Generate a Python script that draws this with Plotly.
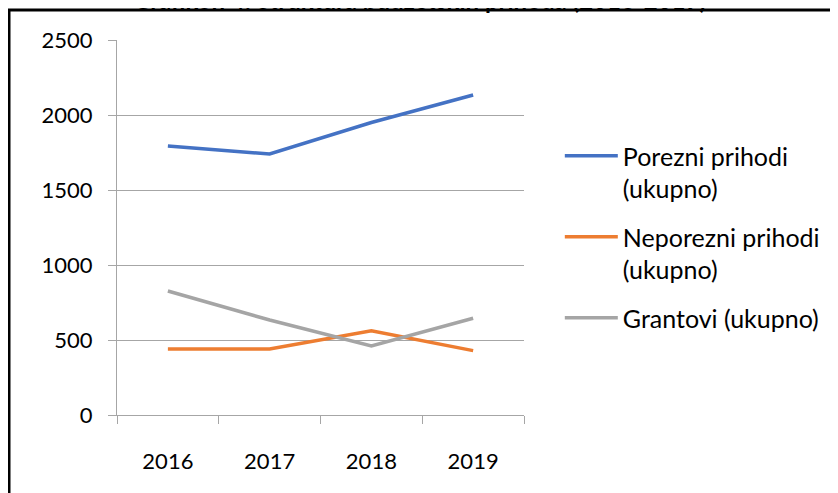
import plotly.graph_objects as go

# data
years = ["2016", "2017", "2018", "2019"]
porezni = [1793, 1740, 1950, 2133]
neporezni = [440, 440, 562, 429]
grantovi = [827, 633, 460, 645]

names = ["Porezni prihodi<br>(ukupno)", "Neporezni prihodi<br>(ukupno)", "Grantovi (ukupno)"]
colors = ["#4472C4", "#ED7D31", "#A5A5A5"]
title = "<b>Grafikon 4: Struktura budžetskih prihoda (2016-2019)</b>"

FONT = "Lato"

fig = go.Figure()
for i, (vals, name, col) in enumerate(zip([porezni, neporezni, grantovi], names, colors)):
    fig.add_trace(go.Scatter(x=years, y=vals, name=name, mode="lines", legendgroup=str(i),
                             line=dict(color=col, width=3.5)))

fig.update_layout(
    width=838, height=493,
    margin=dict(l=109, r=322, t=32, b=86),
    paper_bgcolor="white", plot_bgcolor="white",
    font=dict(family=FONT, size=22, color="black"),
    legend=dict(x=1.088, y=0.752, xanchor="left", yanchor="top",
                valign="top", itemwidth=53, tracegroupgap=13,
                font=dict(size=25, family=FONT)),
    showlegend=True,
)

# title sits mostly above the top edge of the picture, as in the reference
fig.add_annotation(text=title, xref="paper", yref="paper", x=0.744, y=1 + 40 / 375,
                   xanchor="center", yanchor="middle", showarrow=False,
                   font=dict(size=24, family=FONT))

fig.update_xaxes(type="category", showgrid=False, showline=True, linecolor="#A6A6A6",
                 linewidth=1.3, ticks="outside", tickson="boundaries", ticklen=8,
                 tickcolor="#A6A6A6", ticklabelstandoff=26, range=[-0.5, 3.5])
fig.update_yaxes(range=[0, 2500], dtick=500, showgrid=True, gridcolor="#A6A6A6",
                 gridwidth=1.3, showline=True, linecolor="#A6A6A6", linewidth=1.3,
                 ticks="outside", ticklen=8, tickcolor="#A6A6A6",
                 ticklabelstandoff=11, zeroline=False)

# outer chart border (only top and left edges are inside the picture)
fig.add_shape(type="rect", xref="paper", yref="paper",
              x0=(1 - 109) / 407, x1=1.9, y0=-0.4, y1=1 + 30 / 375,
              line=dict(color="black", width=3), layer="below")

fig.write_html("out.html")
